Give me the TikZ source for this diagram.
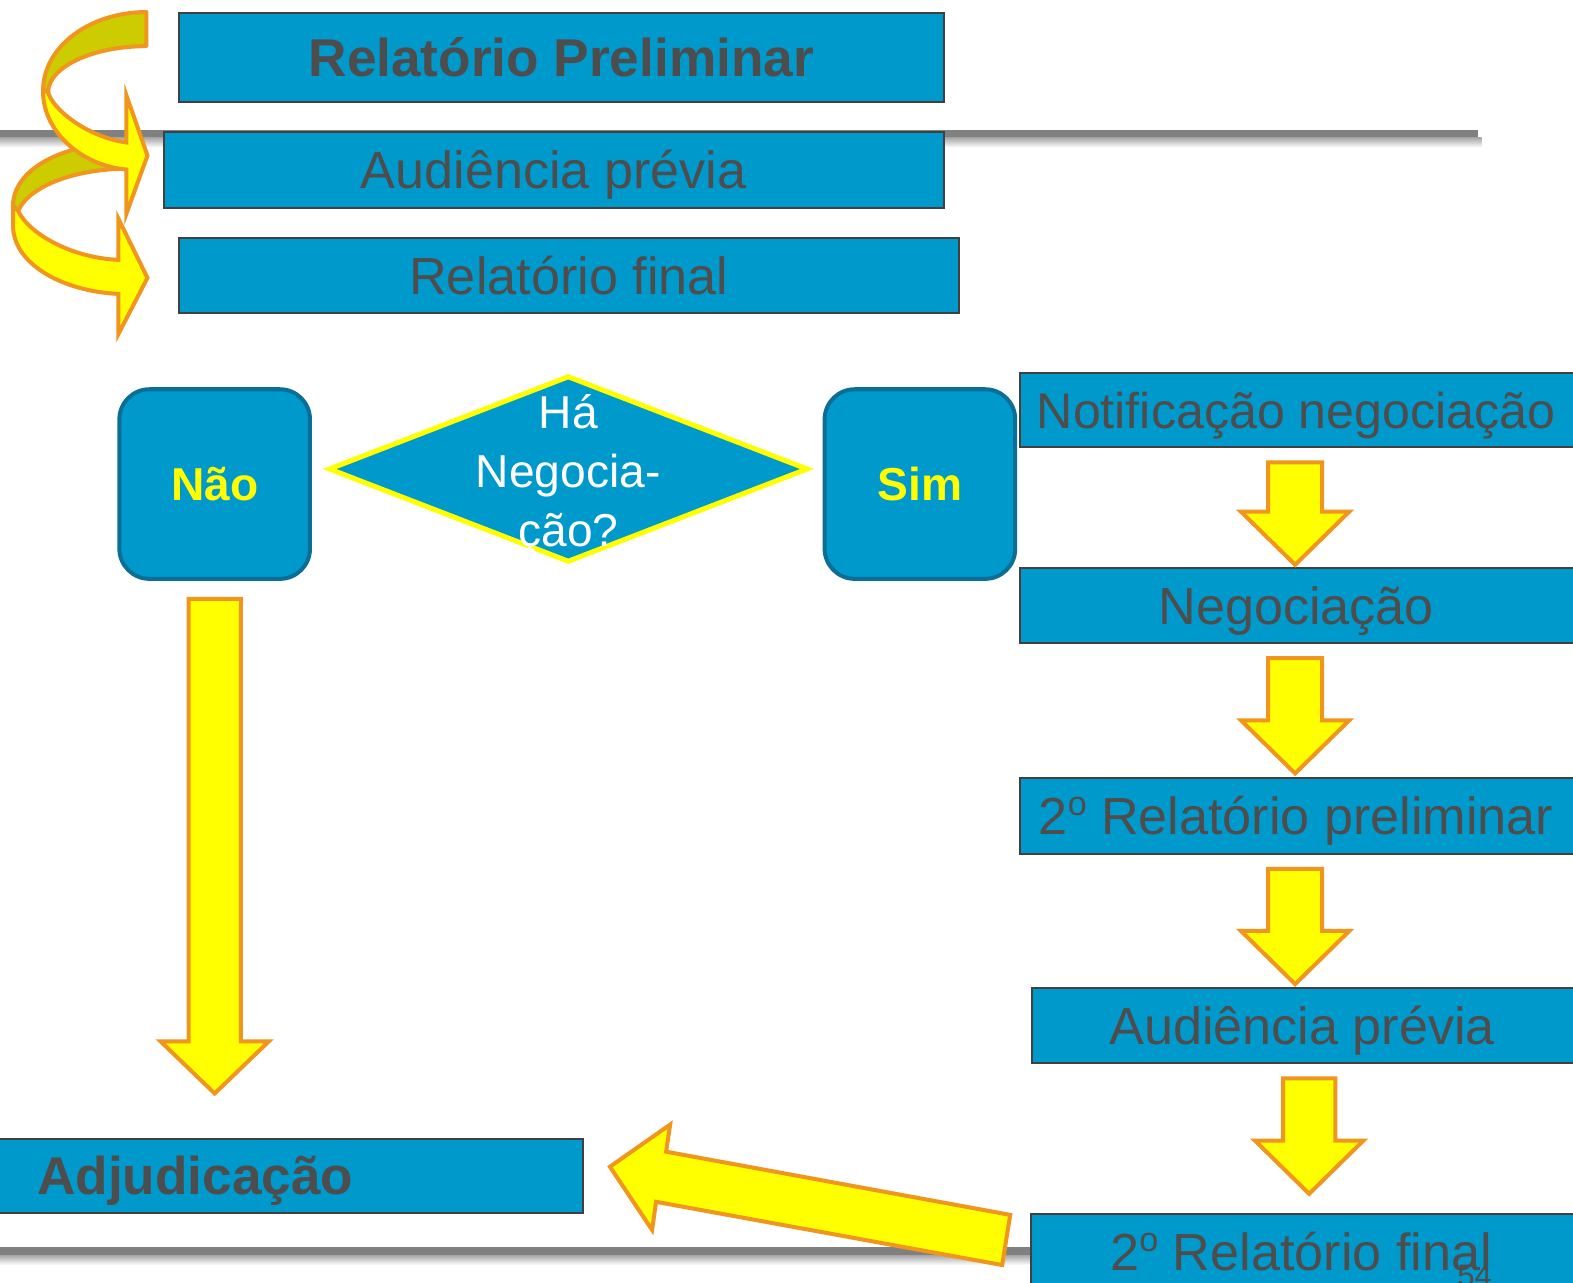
\documentclass[tikz,border=0pt]{standalone}
\usepackage{fontspec}
\setmainfont{Liberation Sans}
\usetikzlibrary{shapes.geometric}
\definecolor{boxblue}{RGB}{0,153,204}
\definecolor{boxline}{RGB}{64,64,64}
\definecolor{txtgray}{RGB}{77,77,77}
\definecolor{rndline}{RGB}{10,110,150}
\definecolor{arrfill}{RGB}{255,255,0}
\definecolor{arrline}{RGB}{240,150,30}
\definecolor{backolive}{RGB}{204,204,0}
\definecolor{rulegray}{RGB}{128,128,128}
\newcommand\blkdown[5]{% x, top, wing, tip, half shaft
  \draw[blk] (#1-#5,#2) -- (#1+#5,#2) -- (#1+#5,#3) -- (#1+54,#3) -- (#1,#4)
    -- (#1-54,#3) -- (#1-#5,#3) -- cycle;}
\newcommand\ordo{\raisebox{19pt}{\fontsize{34}{34}\selectfont o}}
\begin{document}
\begin{tikzpicture}[x=1pt,y=-1pt,
  box/.style={draw=boxline, line width=2pt, fill=boxblue, inner sep=0pt},
  btxt/.style={text=txtgray, font=\fontsize{52}{60}\selectfont, text height=47pt, text depth=9.8pt, inner sep=0pt},
  rbox/.style={draw=rndline, line width=4pt, fill=boxblue, rounded corners=30pt,
    minimum width=190pt, minimum height=189pt, inner sep=0pt, text=arrfill,
    font=\bfseries\fontsize{46}{55}\selectfont},
  blk/.style={fill=arrfill, draw=arrline, line width=4pt, line join=miter},
  ribbonback/.style={fill=backolive, draw=arrline, line width=4pt, line join=round},
  ribbonfront/.style={fill=arrfill, draw=arrline, line width=4pt, line join=miter},
]
\useasboundingbox (0,0) rectangle (1568,1278);
\fill[white] (0,0) rectangle (1568,1278);
\clip (0,0) rectangle (1568,1278);

% rules with soft shadow
\shade[top color=black!35, bottom color=white] (0,137) rectangle (1477,147);
\fill[rulegray] (0,130) rectangle (1473,137);
\shade[top color=black!35, bottom color=white] (0,1251) rectangle (1034,1261);
\fill[rulegray] (0,1243) rectangle (1030,1251);

% top boxes
\node[box, btxt, minimum width=763pt, minimum height=89pt,
  font=\bfseries\fontsize{53}{60}\selectfont] (rp) at (559.5,57.5) {Relatório Preliminar};
\node[box, btxt, minimum width=778pt, minimum height=75pt] (ap) at (552,169.5) {Audiência prévia};
\node[box, btxt, minimum width=778pt, minimum height=75pt] (rf) at (567,274.5) {Relatório final};

% curved arrows (second first, first on top)
\draw[ribbonback] (130,142) .. controls (60,142) and (13,170) .. (13,205)
  -- (18,210) .. controls (30,185) and (75,168) .. (130,168) -- cycle;
\draw[ribbonfront] (13,205) -- (18,210) .. controls (28,232) and (70,257) .. (118,259)
  -- (118,218) -- (147,277) -- (118,333) -- (118,293)
  .. controls (60,290) and (13,262) .. (13,225) -- cycle;
\draw[ribbonback] (146,12) -- (146,46) .. controls (92,46) and (48,67) .. (48,92)
  -- (43,90) .. controls (43,47) and (89,12) .. (146,12) -- cycle;
\draw[ribbonfront] (43,90) -- (48,92) .. controls (52,108) and (85,136) .. (126,142)
  -- (126,95) -- (147,155) -- (126,213) -- (126,169)
  .. controls (80,165) and (43,130) .. (43,92) -- cycle;

% decision row
\node[rbox] (nao) at (214,482.5) {Não};
\node[rbox] (sim) at (917,482.5) {Sim};
\node[diamond, draw=arrfill, line width=5pt, fill=boxblue, minimum width=478pt,
  minimum height=186pt, inner sep=0pt] (dec) at (566.5,467.5) {};
\node[text=white, align=center, font=\fontsize{46}{58.5}\selectfont, inner sep=0pt]
  (dect) at (566.5,474) {Há\\Negocia-\\ção?};

% right column
\node[box, minimum width=562pt, minimum height=74pt, anchor=west] (notif) at (1016,409) {};
\node[btxt, font=\fontsize{50}{60}\selectfont] (notift) at (1292,409) {Notificação negociação};
\node[box, minimum width=562pt, minimum height=75pt, anchor=west] (neg) at (1016,603.5) {};
\node[btxt] (negt) at (1292,603.5) {Negociação};
\node[box, minimum width=562pt, minimum height=75pt, anchor=west] (rp2) at (1016,813.5) {};
\node[btxt] (rp2t) at (1292,813.5) {2\ordo\ Relatório preliminar};
\node[box, minimum width=550pt, minimum height=75pt, anchor=west] (ap2) at (1028,1022.5) {};
\node[btxt] (ap2t) at (1298,1022.5) {Audiência prévia};
\node[box, minimum width=551pt, minimum height=75pt, anchor=west] (rf2) at (1027,1247.5) {};
\node[btxt] (rf2t) at (1297,1247.5) {2\ordo\ Relatório final};

% adjudicação
\node[box, minimum width=590pt, minimum height=74pt, anchor=east] (adj) at (582,1172) {};
\node[btxt, anchor=west, font=\bfseries\fontsize{53}{60}\selectfont] (adjt) at (37,1172) {Adjudicação};

% block arrows
\blkdown{1291}{461}{510}{563}{27}
\blkdown{1291}{656}{718}{771}{27}
\blkdown{1291}{866}{928}{981}{27}
\blkdown{1305}{1075}{1137}{1190}{26}
\blkdown{214}{597}{1038}{1090}{26}
\draw[blk] (608,1163) -- (668,1121) -- (664,1148) -- (1007,1211) -- (999,1261)
  -- (654,1198) -- (650,1226) -- cycle;

% page number
\node[text=txtgray, font=\fontsize{31}{31}\selectfont, anchor=base, inner sep=0pt] (pg) at (1470,1282) {54};
\end{tikzpicture}
\end{document}
